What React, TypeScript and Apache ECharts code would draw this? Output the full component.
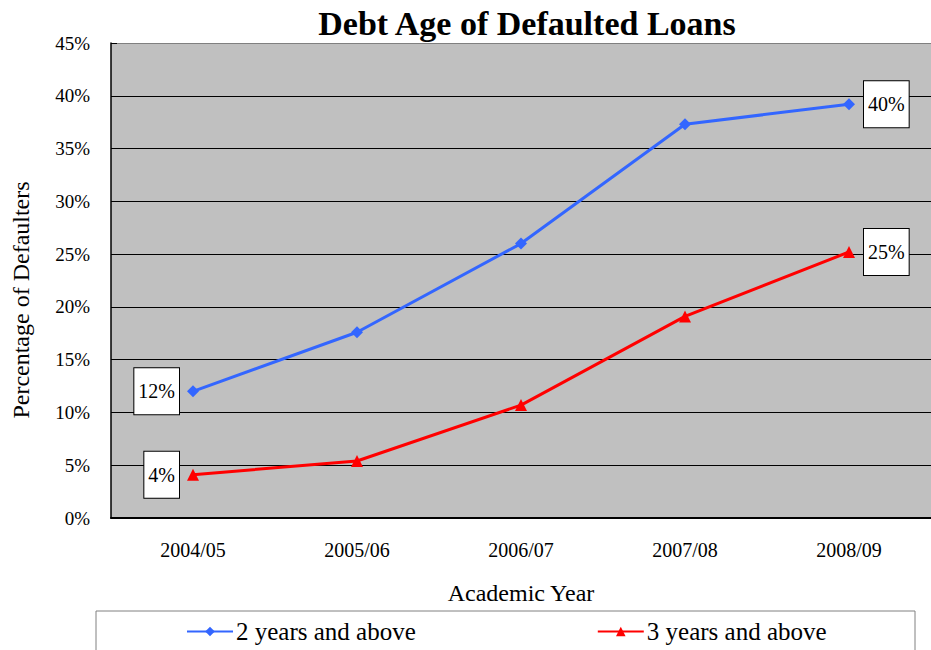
import React, { useEffect, useRef } from "react";
import * as echarts from "echarts";

const categories = ["2004/05", "2005/06", "2006/07", "2007/08", "2008/09"];
const twoYears = [12.0, 17.6, 26.0, 37.3, 39.2];
const threeYears = [4.1, 5.4, 10.7, 19.1, 25.2];
const twoYearsLabels = ["12%", "", "", "", "40%"];
const threeYearsLabels = ["4%", "", "", "", "25%"];
const seriesNames = ["2 years and above", "3 years and above"];
const titleText = "Debt Age of Defaulted Loans";
const xName = "Academic Year";
const yName = "Percentage of Defaulters";

const SERIF = "'Liberation Serif', 'Times New Roman', serif";

function buildData(values: number[], labels: string[]) {
  return values.map((v, i) => {
    const lab = labels[i];
    if (!lab) return { value: v };
    return {
      value: v,
      label: {
        show: true,
        position: i === 0 ? "left" : "right",
        distance: i === 0 ? 8 : 9,
        formatter: lab,
        fontFamily: SERIF,
        fontSize: 20,
        color: "#000",
        backgroundColor: "#fff",
        borderColor: "#000",
        borderWidth: 1,
        padding: [14, 4, 12, 4],
        lineHeight: 20,
      },
    };
  });
}

export default function App() {
  const ref = useRef<HTMLDivElement>(null);
  useEffect(() => {
    if (!ref.current) return;
    const chart = echarts.init(ref.current, null, { renderer: "svg" });
    const splitColors = Array.from({ length: 10 }, (_, i) => (i === 9 ? "#808080" : "#000"));
    chart.setOption({
      animation: false,
      backgroundColor: "#fff",
      title: {
        text: titleText,
        left: 522,
        textAlign: "center",
        top: 1,
        textStyle: { fontFamily: SERIF, fontWeight: "bold", fontSize: 34, color: "#000" },
      },
      grid: {
        left: 111,
        top: 43,
        width: 825,
        height: 475,
        show: true,
        backgroundColor: "#C0C0C0",
        borderWidth: 0,
      },
      graphic: [
        {
          type: "text",
          x: 21,
          y: 300,
          rotation: Math.PI / 2,
          style: {
            text: yName,
            fontFamily: SERIF,
            fontSize: 24,
            fill: "#000",
            textAlign: "center",
            textVerticalAlign: "middle",
          },
        },
        {
          type: "rect",
          shape: { x: 96, y: 611, width: 819, height: 60 },
          style: { fill: "#fff", stroke: "#808080", lineWidth: 1 },
          z: -1,
        },
      ],
      legend: {
        left: 186,
        top: 619,
        itemWidth: 46,
        itemHeight: 12,
        itemGap: 181,
        padding: 0,
        data: seriesNames,
        textStyle: { fontFamily: SERIF, fontSize: 25, color: "#000", padding: [0, 0, 0, -2] },
      },
      xAxis: {
        type: "category",
        data: categories,
        boundaryGap: true,
        name: xName,
        nameLocation: "middle",
        nameGap: 63,
        nameTextStyle: { fontFamily: SERIF, fontSize: 24, color: "#000" },
        axisLine: { lineStyle: { color: "#000", width: 2 } },
        axisTick: { inside: true, length: 6, lineStyle: { color: "#000" } },
        axisLabel: { fontFamily: SERIF, fontSize: 20, color: "#000", margin: 22 },
      },
      yAxis: {
        type: "value",
        min: 0,
        max: 45,
        interval: 5,
        axisLine: { show: true, lineStyle: { color: "#000", width: 1.5 } },
        axisTick: { show: true, inside: true, length: 6, lineStyle: { color: "#000" } },
        axisLabel: {
          fontFamily: SERIF,
          fontSize: 19,
          color: "#000",
          margin: 21,
          formatter: "{value}%",
        },
        splitLine: { show: true, lineStyle: { color: splitColors, width: 1 } },
      },
      series: [
        {
          name: seriesNames[0],
          type: "line",
          data: buildData(twoYears, twoYearsLabels),
          symbol: "diamond",
          symbolSize: 12,
          itemStyle: { color: "#3366FF" },
          lineStyle: { color: "#3366FF", width: 3 },
          z: 3,
        },
        {
          name: seriesNames[1],
          type: "line",
          data: buildData(threeYears, threeYearsLabels),
          symbol: "triangle",
          symbolSize: 12,
          itemStyle: { color: "#FF0000" },
          lineStyle: { color: "#FF0000", width: 3 },
          z: 3,
        },
      ],
    });
    return () => chart.dispose();
  }, []);
  return (
    <div
      ref={ref}
      style={{ position: "fixed", left: 0, top: 0, width: 931, height: 650, background: "#fff" }}
    />
  );
}
